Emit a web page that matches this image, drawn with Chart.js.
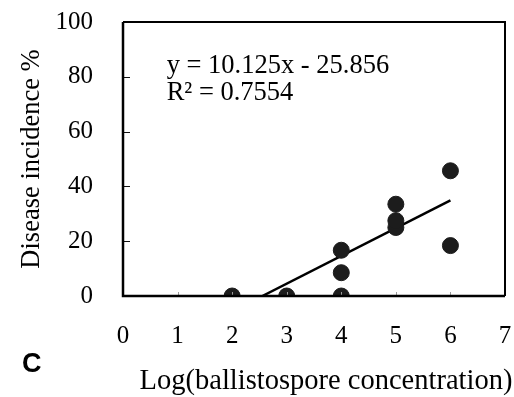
<!DOCTYPE html>
<html>
<head>
<meta charset="utf-8">
<script src="https://cdn.jsdelivr.net/npm/chart.js@4/dist/chart.umd.min.js"></script>
<style>
  html, body { margin: 0; padding: 0; background: #ffffff; }
  canvas { display: block; }
</style>
</head>
<body>
<canvas id="c" width="514" height="397"></canvas>
<script>
// ---- data ----
const logConcentration = [2, 3, 4, 4, 4, 5, 5, 5, 6, 6];
const diseaseIncidence = [0, 0, 0, 8.5, 16.7, 25, 27.5, 33.5, 45.7, 18.4];
const slope = 10.125;
const intercept = -25.856;
const rSquared = 0.7554;
const xTickValues = [0, 1, 2, 3, 4, 5, 6, 7];
const yTickValues = [0, 20, 40, 60, 80, 100];
const xTitle = 'Log(ballistospore concentration)';
const yTitle = 'Disease incidence %';
const panelLabel = 'C';

const SERIF = '"Liberation Serif", "Times New Roman", serif';

const points = logConcentration.map((x, i) => ({ x: x, y: diseaseIncidence[i] }));
const lineStart = -intercept / slope;
const lineEnd = Math.max(...logConcentration);
const trend = [lineStart, lineEnd].map(x => ({ x: x, y: slope * x + intercept }));

const framePlugin = {
  id: 'frame',
  afterDatasetsDraw(chart) {
    const { ctx, chartArea: a, scales } = chart;
    ctx.save();
    ctx.strokeStyle = '#111';
    ctx.lineWidth = 1;
    yTickValues.forEach(v => {
      const y = Math.round(scales.y.getPixelForValue(v)) + 0.5;
      ctx.beginPath(); ctx.moveTo(a.left, y); ctx.lineTo(a.left + 7, y); ctx.stroke();
    });
    ctx.strokeStyle = '#999';
    xTickValues.forEach(v => {
      const x = Math.round(scales.x.getPixelForValue(v)) + 0.5;
      ctx.beginPath(); ctx.moveTo(x, a.bottom); ctx.lineTo(x, a.bottom - 4); ctx.stroke();
    });
    ctx.strokeStyle = '#000';
    ctx.lineWidth = 2.5;
    ctx.beginPath();
    ctx.moveTo(a.left, a.top); ctx.lineTo(a.left, a.bottom); ctx.lineTo(a.right, a.bottom);
    ctx.stroke();
    ctx.lineWidth = 2;
    ctx.beginPath();
    ctx.moveTo(a.left, a.top); ctx.lineTo(a.right, a.top); ctx.lineTo(a.right, a.bottom);
    ctx.stroke();
    ctx.restore();
  },
  afterDraw(chart) {
    const { ctx, scales } = chart;
    ctx.save();
    ctx.fillStyle = '#000';
    ctx.textBaseline = 'alphabetic';
    ctx.font = '26.5px ' + SERIF;
    ctx.textAlign = 'left';
    const ax = scales.x.getPixelForValue(0.8);
    ctx.fillText('y = ' + slope + 'x - ' + Math.abs(intercept), ax, scales.y.getPixelForValue(81.4));
    ctx.fillText('R\u00B2 = ' + rSquared, ax, scales.y.getPixelForValue(71.5));
    ctx.font = '28.5px ' + SERIF;
    ctx.textAlign = 'center';
    ctx.fillText(xTitle, 326, 389);
    ctx.font = 'bold 27px "Liberation Sans", Arial, sans-serif';
    ctx.textAlign = 'left';
    ctx.fillText(panelLabel, 22, 372);
    ctx.restore();
  }
};

const chart = new Chart(document.getElementById('c'), {
  type: 'scatter',
  data: {
    datasets: [
      {
        label: 'Observed',
        data: points,
        backgroundColor: '#1c1c1c',
        borderColor: '#1c1c1c',
        pointRadius: 8,
        pointHoverRadius: 8,
        order: 1
      },
      {
        label: 'Linear fit',
        data: trend,
        showLine: true,
        borderColor: '#000',
        borderWidth: 2.5,
        pointRadius: 0,
        fill: false,
        order: 2
      }
    ]
  },
  options: {
    responsive: false,
    animation: false,
    events: [],
    layout: { padding: { top: 22, right: 9, left: 0, bottom: 0 } },
    plugins: { legend: { display: false }, tooltip: { enabled: false } },
    scales: {
      x: {
        type: 'linear',
        min: 0, max: 7,
        afterBuildTicks: s => { s.ticks = xTickValues.map(v => ({ value: v })); },
        afterFit: s => { s.height = 101; s.paddingLeft = 0; s.paddingRight = 0; },
        grid: { display: false, drawTicks: false },
        border: { display: false },
        ticks: { color: '#000', padding: 25, maxRotation: 0, font: { family: SERIF, size: 25 } },
        title: { display: false }
      },
      y: {
        type: 'linear',
        min: 0, max: 100,
        afterBuildTicks: s => { s.ticks = yTickValues.map(v => ({ value: v })); },
        afterFit: s => { s.width = 123; s.paddingTop = 0; s.paddingBottom = 0; },
        grid: { display: false, drawTicks: false },
        border: { display: false },
        ticks: { color: '#000', padding: 30, font: { family: SERIF, size: 25 } },
        title: {
          display: true,
          text: yTitle,
          color: '#000',
          font: { family: SERIF, size: 26.5 },
          padding: { top: 16, bottom: 0 }
        }
      }
    }
  },
  plugins: [framePlugin]
});
</script>
</body>
</html>
